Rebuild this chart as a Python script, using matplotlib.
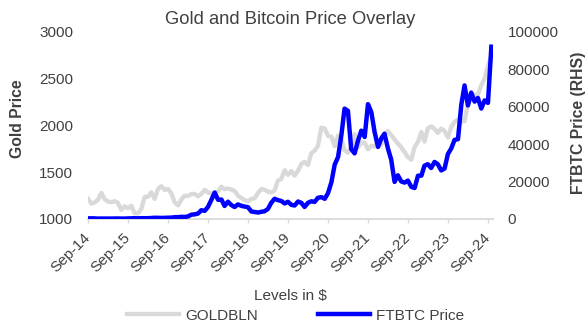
import matplotlib
matplotlib.use("Agg")
import matplotlib.pyplot as plt
import pandas as pd

plt.rcParams["font.family"] = ["Liberation Sans", "DejaVu Sans"]

# Monthly observations, Sep 2014 - Oct 2024
dates = pd.date_range("2014-09-30", periods=122, freq="ME")

gold = [
    1216, 1164, 1176, 1206,
    1279, 1213, 1187, 1180, 1190, 1172, 1098, 1135, 1115, 1142, 1061, 1060,
    1111, 1234, 1237, 1285, 1215, 1321, 1351, 1309, 1322, 1272, 1178, 1146,
    1211, 1248, 1245, 1266, 1268, 1242, 1268, 1311, 1283, 1271, 1275, 1296,
    1345, 1318, 1325, 1316, 1299, 1250, 1224, 1202, 1187, 1215, 1221, 1279,
    1321, 1313, 1292, 1284, 1305, 1409, 1427, 1520, 1472, 1511, 1463, 1515,
    1589, 1609, 1577, 1702, 1730, 1781, 1975, 1967, 1887, 1879, 1777, 1891,
    1847, 1734, 1708, 1769, 1906, 1763, 1814, 1814, 1743, 1783, 1774, 1829,
    1797, 1909, 1937, 1897, 1848, 1807, 1766, 1712, 1661, 1633, 1768, 1824,
    1928, 1826, 1969, 1990, 1962, 1919, 1965, 1940, 1871, 1983, 2036, 2063,
    2039, 2044, 2229, 2286, 2327, 2327, 2427, 2503, 2634, 2744,
]

btc = [
    338, 378, 320, 217,
    254, 244, 236, 230, 263, 284, 230, 236, 314, 377, 430, 368,
    437, 416, 448, 531, 673, 624, 575, 609, 698, 742, 963, 970,
    1190, 1080, 1348, 2286, 2480, 2875, 4703, 4338, 6468, 10233, 14156, 10221,
    10397, 6973, 9240, 7494, 6404, 7780, 7037, 6625, 6318, 4017, 3742, 3457,
    3854, 4105, 5350, 8574, 10817, 10085, 9630, 8293, 9199, 7569, 7193, 9350,
    8599, 6438, 8658, 9461, 9137, 11323, 11680, 10784, 13781, 19625, 29002, 33114,
    45137, 58918, 57750, 37332, 35041, 41626, 47166, 43791, 61318, 57005, 46306, 38483,
    43194, 45538, 37714, 31792, 19785, 23337, 20050, 19432, 20496, 17168, 16548, 23139,
    23147, 28478, 29268, 27219, 30477, 29230, 25932, 26968, 34668, 37713, 42265, 42582,
    61198, 71333, 60636, 67491, 62678, 64626, 58970, 63329, 62000, 92000,
]

gold_ticks = [1000, 1500, 2000, 2500, 3000]
btc_ticks = [0, 20000, 40000, 60000, 80000, 100000]
year_ticks = dates[::12]
year_labels = [d.strftime("%b-%y") for d in year_ticks]

TXT = "#404040"
GRID = "#d9d9d9"

fig = plt.figure(figsize=(5.85, 3.25), dpi=100)
ax = fig.add_axes([88 / 585, 1 - 219 / 325, (493 - 88) / 585, (219 - 31.7) / 325])
ax2 = ax.twinx()

ax.plot(dates, gold, color="#d9d9d9", lw=3.1, label="GOLDBLN")
ax2.plot(dates, btc, color="#0000ff", lw=3.2, label="FTBTC Price")

ax.set_xlim(dates[0], dates[-1] + pd.Timedelta(days=15))
ax.set_ylim(1000, 3000)
ax2.set_ylim(0, 100000)
ax.set_yticks(gold_ticks)
ax.set_yticklabels([str(v) for v in gold_ticks])
ax2.set_yticks(btc_ticks)
ax2.set_yticklabels([str(v) for v in btc_ticks])
ax.set_xticks(year_ticks)
ax.set_xticklabels(year_labels)

for a in (ax, ax2):
    for s in a.spines.values():
        s.set_visible(False)
ax.spines["bottom"].set_visible(True)
ax.spines["bottom"].set_color(GRID)
ax.spines["bottom"].set_linewidth(1.3)

ax.tick_params(axis="y", length=0, pad=10.8, labelsize=11, labelcolor=TXT)
ax2.tick_params(axis="y", length=0, pad=10.6, labelsize=11, labelcolor=TXT)
ax.tick_params(axis="x", length=3, width=1, color=GRID, pad=9, labelsize=11, labelcolor=TXT)
for lbl in ax.get_xticklabels():
    lbl.set_rotation(45)
    lbl.set_ha("right")
    lbl.set_va("center")
    lbl.set_rotation_mode("anchor")

ax.set_title("Gold and Bitcoin Price Overlay", fontsize=13.2, color=TXT, pad=5.5)

ax.set_ylabel("Gold Price", fontsize=11.3, fontweight="bold", color=TXT)
ax.yaxis.set_label_coords(-0.174, 0.537)
ax2.set_ylabel("FTBTC Price (RHS)", fontsize=11.3, fontweight="bold", color=TXT)
ax2.yaxis.set_label_coords(1.21, 0.513)
ax2.yaxis.label.set_va("center")
ax.yaxis.label.set_va("center")

ax.set_xlabel("Levels in $", fontsize=11, color=TXT)
ax.xaxis.set_label_coords(0.5, (219 - 296) / 187.3)
ax.xaxis.label.set_va("center")

h1, l1 = ax.get_legend_handles_labels()
h2, l2 = ax2.get_legend_handles_labels()
fig.legend(h1 + h2, l1 + l2, loc="center", bbox_to_anchor=(295.5 / 585, 1 - 315.7 / 325),
           ncol=2, frameon=False, fontsize=11, handlelength=3.4, handletextpad=0.4,
           columnspacing=3.9, labelcolor=TXT, borderaxespad=0, borderpad=0)

fig.savefig("out.png", dpi=100)
